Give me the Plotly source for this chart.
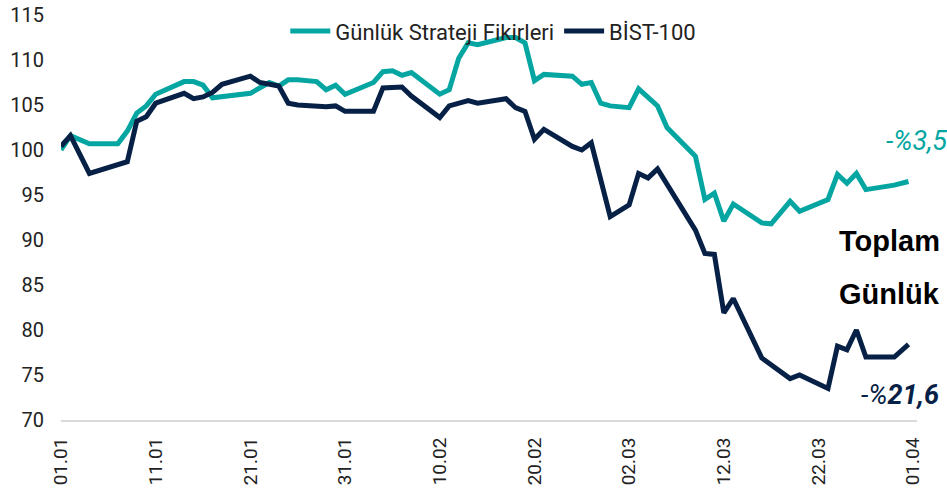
import plotly.graph_objects as go

# Day offsets from 01.01 and index values (start = 100)
strat_day = [0, 1, 3, 6, 7, 8, 9, 10, 13, 14, 15, 16, 20, 22, 23, 24, 25, 27, 28, 29, 30,
             33, 34, 35, 36, 37, 40, 41, 42, 43, 44, 47, 48, 49, 50, 51, 54, 55, 56, 57,
             58, 60, 61, 63, 64, 67, 68, 69, 70, 71, 74, 75, 77, 78, 81, 82, 83, 84, 85,
             88, 89.5]
strat_val = [100.0, 101.6, 100.7, 100.7, 102.1, 104.1, 104.9, 106.2, 107.6, 107.6, 107.2,
             105.8, 106.3, 107.5, 107.1, 107.8, 107.8, 107.6, 106.7, 107.2, 106.2,
             107.5, 108.7, 108.8, 108.3, 108.6, 106.2, 106.7, 110.2, 111.9, 111.7, 112.5,
             112.5, 111.9, 107.7, 108.4, 108.2, 107.3, 107.5, 105.2,
             104.9, 104.7, 106.8, 104.9, 102.5, 99.3, 94.5, 95.2, 92.1, 94.0, 91.9, 91.8,
             94.3, 93.2, 94.5, 97.3, 96.3, 97.4, 95.6, 96.1, 96.5]

bist_day = [0, 1, 3, 7, 8, 9, 10, 13, 14, 15, 16, 17, 20, 21, 23, 24, 25, 28, 29, 30, 33,
            34, 36, 37, 40, 41, 43, 44, 47, 48, 49, 50, 51, 54, 55, 56, 58, 60, 61, 62,
            63, 67, 68, 69, 70, 71, 74, 77, 78, 81, 82, 83, 84, 85, 88, 89.5]
bist_val = [100.4, 101.6, 97.4, 98.7, 103.2, 103.7, 105.2, 106.3, 105.7, 105.9, 106.4,
            107.3, 108.2, 107.5, 107.1, 105.2, 105.0, 104.8, 104.9, 104.3, 104.3,
            106.9, 107.0, 106.0, 103.6, 104.9, 105.5, 105.2, 105.7, 104.7, 104.3, 101.2,
            102.3, 100.4, 100.0, 100.8, 92.6, 93.9, 97.4, 96.9,
            97.9, 91.1, 88.5, 88.4, 81.9, 83.5, 76.9, 74.6, 75.0, 73.5, 78.2, 77.8, 80.0,
            77.0, 77.0, 78.4]

tick_days = [0, 10, 20, 30, 40, 50, 60, 70, 80, 90]
tick_labels = ["01.01", "11.01", "21.01", "31.01", "10.02", "20.02", "02.03", "12.03",
               "22.03", "01.04"]
y_ticks = [70, 75, 80, 85, 90, 95, 100, 105, 110, 115]

TEAL = "#05a6a2"
NAVY = "#072146"

fig = go.Figure()
fig.add_trace(go.Scatter(x=strat_day, y=strat_val, mode="lines",
                         name="Günlük Strateji Fikirleri",
                         line=dict(color=TEAL, width=5)))
fig.add_trace(go.Scatter(x=bist_day, y=bist_val, mode="lines", name="BİST-100",
                         line=dict(color=NAVY, width=5)))

fig.update_layout(
    width=947, height=495,
    margin=dict(l=61, r=30, t=15, b=75, autoexpand=False),
    paper_bgcolor="white", plot_bgcolor="white",
    font=dict(family="Roboto", color="#222222"),
    showlegend=True,
    legend=dict(orientation="h", x=0.505, xanchor="center", y=1.012, yanchor="top",
                font=dict(size=22, color="#222222"), bgcolor="rgba(0,0,0,0)",
                itemwidth=40, tracegroupgap=0),
    xaxis=dict(range=[0, 90.4], tickmode="array", tickvals=tick_days,
               ticktext=tick_labels, tickangle=-90, showgrid=False, zeroline=False,
               showline=True, linecolor="#d9d9d9", linewidth=2, ticks="",
               tickfont=dict(size=19, color="#222222"), ticklabelstandoff=8,
               automargin=False),
    yaxis=dict(range=[70, 115], tickmode="array", tickvals=y_ticks, showgrid=False,
               zeroline=False, showline=False, ticks="",
               tickfont=dict(size=20, color="#222222"), ticklabelstandoff=16,
               automargin=False),
)

fig.add_annotation(xref="paper", yref="paper", x=1.037, y=0.688, xanchor="right",
                   yanchor="middle", showarrow=False,
                   text="<i>-%3,5</i>", font=dict(size=27, color=TEAL, family="Roboto"))
fig.add_annotation(xref="paper", yref="paper", x=0.906, y=0.442, xanchor="left",
                   yanchor="middle", showarrow=False, text="<b>Toplam</b>",
                   font=dict(size=29, color="black", family="Liberation Sans"))
fig.add_annotation(xref="paper", yref="paper", x=0.907, y=0.31, xanchor="left",
                   yanchor="middle", showarrow=False, text="<b>Günlük</b>",
                   font=dict(size=29, color="black", family="Liberation Sans"))
fig.add_annotation(xref="paper", yref="paper", x=1.028, y=0.062, xanchor="right",
                   yanchor="middle", showarrow=False,
                   text="<i>-%<b>21,6</b></i>", font=dict(size=27, color=NAVY, family="Roboto"))

fig.write_html("out.html")
